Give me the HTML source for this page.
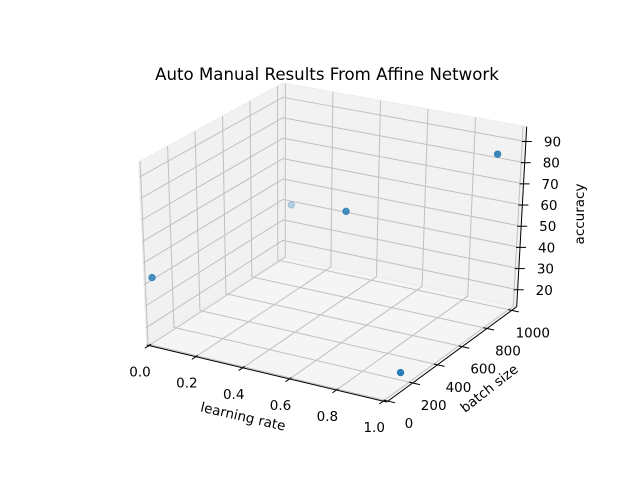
<!DOCTYPE html>
<html><head><meta charset="utf-8"><style>
html,body{margin:0;padding:0;background:#fff;}
svg{display:block;font-family:"DejaVu Sans","Liberation Sans",sans-serif;}
</style></head><body>
<svg id="chart" width="640" height="480" viewBox="0 0 640 480">
<rect width="640" height="480" fill="#fff"/>
<text x="327" y="80" text-anchor="middle" font-size="16.6" fill="#000">Auto Manual Results From Affine Network</text>
<g id="panes"></g><g id="grid"></g><g id="axes"></g><g id="points"></g>
<text transform="translate(242,421) rotate(13)" text-anchor="middle" font-size="13.5">learning rate</text>
<text transform="translate(492,392) rotate(-38)" text-anchor="middle" font-size="13.5">batch size</text>
<text transform="translate(584,214) rotate(-90)" text-anchor="middle" font-size="13.5">accuracy</text>
</svg>
<script>
const learningRates = [0.001, 0.035, 0.555, 0.995, 1.0];
const batchSizes = [32, 1024, 512, 860, 128];
const accuracies = [42, 39, 67, 90, 19];
const xTicks = [0, 0.2, 0.4, 0.6, 0.8, 1.0];
const xTickLabels = ["0.0","0.2","0.4","0.6","0.8","1.0"];
const yTicks = [0, 200, 400, 600, 800, 1000];
const zTicks = [20, 30, 40, 50, 60, 70, 80, 90];

const XL=[-0.01,1.015], YL=[-10,1040], ZL=[12,97];
const C={ '000':[146.7,345],'100':[386.7,402],'110':[516.7,306.7],'010':[283,256.7],
 '001':[138.7,162],'101':[389,204],'111':[526.7,126.7],'011':[283,83]};
function L(a,b,t){return [a[0]+(b[0]-a[0])*t,a[1]+(b[1]-a[1])*t];}
function P(u,v,w){
  const a=L(C['000'],C['100'],u), b=L(C['010'],C['110'],u);
  const c=L(C['001'],C['101'],u), d=L(C['011'],C['111'],u);
  return L(L(a,b,v),L(c,d,v),w);
}
const nx=x=>(x-XL[0])/(XL[1]-XL[0]);
const ny=y=>(y-YL[0])/(YL[1]-YL[0]);
const nz=z=>(z-ZL[0])/(ZL[1]-ZL[0]);
const NS='http://www.w3.org/2000/svg';
function mk(parent,tag,attrs){const e=document.createElementNS(NS,tag);for(const k in attrs)e.setAttribute(k,attrs[k]);document.getElementById(parent).appendChild(e);return e;}
function poly(pts){return pts.map(p=>p[0].toFixed(1)+','+p[1].toFixed(1)).join(' ');}
function line(parent,a,b,stroke,w){return mk(parent,'line',{x1:a[0],y1:a[1],x2:b[0],y2:b[1],stroke:stroke,'stroke-width':w});}

let e;
e=mk('panes','polygon',{points:poly([P(0,0,0),P(1,0,0),P(1,1,0),P(0,1,0)]),fill:'#f5f5f5',stroke:'#ececec'});


e=mk('panes','polygon',{points:poly([P(0,0,0),P(0,1,0),P(0,1,1),P(0,0,1)]),fill:'#f1f1f1',stroke:'#ececec'});


e=mk('panes','polygon',{points:poly([P(0,1,0),P(1,1,0),P(1,1,1),P(0,1,1)]),fill:'#f2f2f2',stroke:'#ececec'});



const G='#c0c0c0';
xTicks.forEach(t=>{const u=nx(t);
  e=line('grid',P(u,0,0),P(u,1,0),G,1);
  
  
  e=line('grid',P(u,1,0),P(u,1,1),G,1);
  
  
});
yTicks.forEach(t=>{const v=ny(t);
  e=line('grid',P(0,v,0),P(1,v,0),G,1);
  
  
  e=line('grid',P(0,v,0),P(0,v,1),G,1);
  
  
});
zTicks.forEach(t=>{const w=nz(t);
  e=line('grid',P(0,0,w),P(0,1,w),G,1);
  
  
  e=line('grid',P(0,1,w),P(1,1,w),G,1);
  
  
});

e=line('axes',P(0,0,0),P(1,0,0),'#000',1);


e=line('axes',P(1,0,0),P(1,1,0),'#000',1);


e=line('axes',P(1,1,0),P(1,1,1),'#000',1);



xTicks.forEach((t,i)=>{const u=nx(t);const a=P(u,0.015,0),b=P(u,-0.03,0);
  e=line('axes',a,b,'#000',1);
  
  
  const p=P(u,0,0);
  e=mk('axes','text',{x:p[0]-9,y:p[1]+31,'text-anchor':'middle','font-size':'13.5'});
  e.textContent=xTickLabels[i];
  
  
});
yTicks.forEach(t=>{const v=ny(t);const a=P(0.985,v,0),b=P(1.03,v,0);
  e=line('axes',a,b,'#000',1);
  
  
  const p=P(1,v,0);
  e=mk('axes','text',{x:p[0]+21,y:p[1]+27,'text-anchor':'middle','font-size':'13.5'});
  e.textContent=String(t);
  
  
});
zTicks.forEach(t=>{const w=nz(t);const p=P(1,1,w);
  e=line('axes',[p[0]-4,p[1]],[p[0]+6,p[1]],'#000',1);
  
  
  e=mk('axes','text',{x:p[0]+18,y:p[1]+5,'font-size':'13.5'});
  e.textContent=String(t);
  
  
});

const depths=learningRates.map((lr,i)=>0.433*nx(lr)-0.75*ny(batchSizes[i])+0.5*nz(accuracies[i]));
const dmin=Math.min(...depths), dmax=Math.max(...depths);
learningRates.forEach((lr,i)=>{
  const p=P(nx(lr),ny(batchSizes[i]),nz(accuracies[i]));
  const al=0.3+0.7*(depths[i]-dmin)/((dmax-dmin)||1);
  e=mk('points','circle',{cx:p[0],cy:p[1],r:3.3,fill:'#1f77b4','fill-opacity':Math.min(1,al*0.95),stroke:'#1f77b4','stroke-opacity':Math.min(1,al*0.95),'stroke-width':0.8});
  
  
});
</script>
</body></html>
